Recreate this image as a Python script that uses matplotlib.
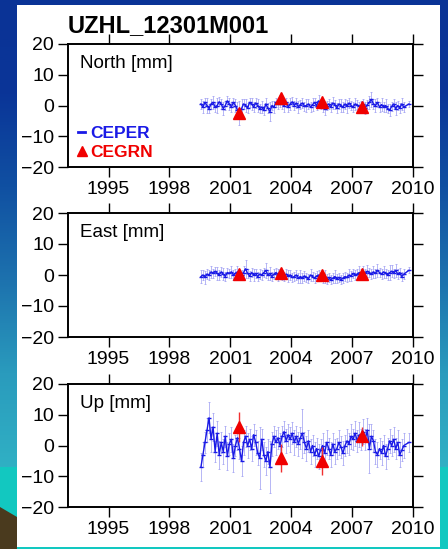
import matplotlib
matplotlib.use("Agg")
import matplotlib.pyplot as plt
import numpy as np
from matplotlib.lines import Line2D
from matplotlib.patches import Rectangle, Polygon

plt.rcParams['font.family'] = ['Liberation Sans', 'DejaVu Sans']

W, H = 448, 549

title = "UZHL_12301M001"
panel_names = ["North [mm]", "East [mm]", "Up [mm]"]
year_ticks = [1995, 1998, 2001, 2004, 2007, 2010]
val_ticks = [-20, -10, 0, 10, 20]

# CEPER continuous series, one value every 0.1 yr from 1999.55, plus a last point
ceper_t = np.append(np.round(np.arange(1999.55, 2009.56, 0.1), 2), 2009.8)

north = [0.5, -0.5, 1.0, 0.0, -1.0, 0.5, 1.0, -0.5, 0.0, 1.2,
         0.5, -1.0, 0.0, 1.5, 0.5, -0.5, 1.0, 0.0, -1.5, -2.5,
         -1.0, 0.5, 0.0, -0.8, 1.0, 0.5, -0.5, 0.8, 0.0, -1.0,
         -0.5, -1.5, 0.5, -0.8, -2.0, 0.0, -0.5, 1.0, 0.5, 1.5,
         0.5, 0.0, 1.0, -0.5, 0.5, 1.2, 0.0, 0.8, -0.5, 0.3,
         0.8, -0.2, 0.0, 0.5, -0.5, 0.3, 1.0, 0.0, 1.5, 0.5,
         -0.5, -1.0, 0.0, 0.5, -0.5, 0.8, 0.3, -0.8, 0.5, 0.0,
         -0.5, 0.5, -0.3, 0.8, 0.0, -0.5, 0.5, 0.2, -0.3, 0.0,
         0.5, -0.8, 0.3, 1.0, 2.0, 0.5, 0.0, 1.0, -0.5, 0.3,
         -0.5, 0.0, -1.0, -1.5, -0.3, 0.5, -1.0, 0.0, -0.8, 0.5,
         -0.5, 0.5]
north_err = [1.5, 2.0, 1.5, 2.5, 1.5, 1.5, 2.0, 1.5, 2.5, 1.5,
             1.5, 2.0, 1.5, 1.5, 2.0, 1.5, 1.5, 2.0, 2.5, 4.0,
             3.0, 1.5, 2.0, 1.5, 1.5, 2.0, 1.5, 1.5, 2.0, 1.5,
             2.0, 1.5, 2.0, 1.5, 3.0, 1.5, 2.0, 1.5, 1.5, 2.0,
             1.5, 2.0, 1.5, 1.5, 2.0, 1.5, 1.5, 1.5, 2.0, 1.5,
             1.5, 1.5, 2.0, 1.5, 1.5, 2.0, 1.5, 1.5, 2.0, 1.5,
             1.5, 2.0, 1.5, 1.5, 1.5, 2.0, 1.5, 1.5, 1.5, 2.0,
             1.5, 1.5, 2.0, 1.5, 1.5, 1.5, 2.0, 1.5, 1.5, 1.5,
             1.5, 2.0, 1.5, 2.0, 2.5, 1.5, 2.0, 1.5, 1.5, 2.0,
             1.5, 2.0, 1.5, 2.0, 1.5, 1.5, 2.0, 1.5, 1.5, 2.0,
             1.5, 1.0]

east = [-0.5, 0.0, -0.8, 0.3, 0.0, 1.0, 0.5, 1.2, 0.5, 0.0,
        1.0, 0.3, -0.5, 0.8, 0.5, 1.0, 0.0, 0.5, 1.0, 0.3,
        0.0, 0.8, 2.0, 0.5, -0.3, 0.8, 0.0, 0.5, -0.5, 0.3,
        0.0, 0.8, 1.5, 0.0, 0.5, -0.5, 0.3, 0.8, 0.0, 0.5,
        0.0, -0.5, 0.3, -0.3, 0.0, -0.8, -0.5, 0.0, -1.0, -0.5,
        -1.0, -0.3, -0.8, -1.2, 0.0, -0.5, -1.0, -0.3, 0.0, -0.5,
        -1.0, -0.5, -1.3, -0.8, -1.5, -1.0, -0.5, -1.2, -0.8, -1.5,
        -1.0, -0.5, -0.8, 0.0, -0.3, 0.5, 0.0, 0.3, 0.8, 0.5,
        1.0, 0.5, 1.2, 0.8, 0.3, 1.0, 0.5, 1.5, 0.8, 0.3,
        1.0, 0.5, 0.0, 0.8, 1.2, 0.5, 1.5, 0.3, 0.8, -0.5,
        0.3, 1.5]
east_err = [2.0, 1.5, 2.0, 1.5, 1.5, 2.0, 1.5, 1.5, 2.0, 1.5,
            1.5, 2.0, 1.5, 1.5, 1.5, 2.0, 1.5, 1.5, 2.0, 1.5,
            1.5, 2.0, 3.0, 1.5, 1.5, 1.5, 2.0, 1.5, 1.5, 1.5,
            1.5, 1.5, 2.5, 1.5, 2.0, 1.5, 1.5, 1.5, 2.0, 1.5,
            1.5, 1.5, 1.5, 2.0, 1.5, 1.5, 1.5, 1.5, 1.5, 2.0,
            1.5, 1.5, 1.5, 1.5, 2.0, 1.5, 1.5, 1.5, 1.5, 1.5,
            1.5, 2.0, 1.5, 1.5, 1.5, 1.5, 2.0, 1.5, 1.5, 1.5,
            1.5, 1.5, 1.5, 2.0, 1.5, 1.5, 1.5, 1.5, 2.0, 1.5,
            2.0, 1.5, 2.0, 1.5, 1.5, 2.0, 1.5, 2.0, 1.5, 1.5,
            2.0, 1.5, 1.5, 2.5, 2.0, 1.5, 2.0, 1.5, 1.5, 1.5,
            1.5, 1.0]

up = [-7.0, -3.0, 1.0, 5.0, 9.0, 2.0, 6.0, -2.0, 4.0, -3.0,
      1.0, -2.0, 3.0, -3.5, 0.5, 2.0, -4.0, 0.0, 2.5, -1.0,
      -5.0, 1.0, 3.0, 0.0, 2.0, -1.0, 3.5, 1.0, -2.5, -4.0,
      2.0, -3.0, -5.0, -2.0, -7.0, 0.5, 3.0, 1.0, 2.5, 0.0,
      3.0, 4.5, 1.5, 3.5, 2.0, 4.0, 1.0, 3.0, 0.5, 2.5,
      4.0, 1.0, -1.0, 1.5, -2.0, 0.0, -3.0, -1.0, -3.5, -1.5,
      0.0, -2.5, 1.0, -1.0, -3.0, 0.5, -2.0, -1.0, 1.0, -0.5,
      -2.5, 0.0, 1.5, 0.5, 3.0, 2.0, 4.0, 1.5, 3.5, 2.0,
      4.5, 2.0, 5.0, -1.0, 3.0, 1.5, -2.0, -3.0, -1.0, -2.5,
      0.0, -3.5, -1.0, 1.5, 0.0, 2.0, -1.0, 1.0, -3.0, -1.5,
      0.0, 1.0]
up_err = [4.5, 4.0, 3.5, 4.0, 5.0, 4.0, 4.5, 3.5, 4.0, 4.5,
          3.5, 4.0, 3.5, 4.5, 3.5, 4.0, 4.5, 3.5, 4.0, 3.5,
          5.0, 4.0, 3.5, 4.0, 3.5, 4.0, 3.5, 4.0, 4.0, 10.0,
          3.5, 4.0, 4.5, 4.0, 8.5, 4.0, 3.5, 4.0, 3.5, 4.0,
          3.5, 3.5, 4.0, 3.5, 4.0, 3.5, 4.0, 3.5, 4.0, 3.5,
          8.0, 3.5, 4.0, 3.5, 4.0, 3.5, 4.0, 3.5, 4.0, 3.5,
          4.0, 3.5, 4.0, 3.5, 4.0, 3.5, 4.0, 3.5, 4.0, 3.5,
          4.0, 3.5, 4.0, 3.5, 4.0, 3.5, 4.0, 3.5, 4.0, 3.5,
          4.0, 3.5, 4.0, 8.0, 4.0, 3.5, 4.0, 4.0, 3.5, 4.0,
          3.5, 4.0, 3.5, 4.0, 3.5, 4.0, 3.5, 4.0, 4.0, 3.5,
          4.0, 3.0]

# CEGRN campaign solutions
cegrn_t = [2001.45, 2003.5, 2005.5, 2007.5]
cegrn_north = [-2.4, 2.5, 1.0, -0.5]
cegrn_east = [0.4, 0.8, 0.1, 0.2]
cegrn_up = [6.0, -4.0, -5.0, 3.0]
cegrn_north_err = [1.5, 1.5, 1.5, 1.5]
cegrn_east_err = [1.2, 1.2, 1.2, 1.2]
cegrn_up_err = [5.0, 4.5, 4.5, 3.0]

series = [(north, north_err, cegrn_north, cegrn_north_err),
          (east, east_err, cegrn_east, cegrn_east_err),
          (up, up_err, cegrn_up, cegrn_up_err)]

# axes boxes in pixels: (left, right, top, bottom)
boxes = [(68, 413, 44, 167), (68, 413, 213, 337), (68, 413, 384, 507)]

fig = plt.figure(figsize=(W / 100, H / 100), dpi=100)

# slide background
bg = fig.add_axes([0, 0, 1, 1], zorder=-10)
bg.set_xlim(0, W)
bg.set_ylim(H, 0)
bg.axis("off")
grad = np.linspace(0, 1, 256).reshape(-1, 1)
cmap = matplotlib.colors.LinearSegmentedColormap.from_list(
    "slide", ["#0a3396", "#0a3598", "#1050a2", "#1d72ae", "#2a9bbd", "#30b0c4"])
bg.imshow(grad, cmap=cmap, aspect="auto", extent=(0, W, 467, 0))
bg.add_patch(Rectangle((0, 467), W, H - 467, color="#12c8c0", lw=0))
bg.add_patch(Polygon([(0, 507), (17, 517), (17, H), (0, H)], color="#4a3a1e", lw=0))
bg.add_patch(Rectangle((17, 5), 423, 542, color="white", lw=0))

fig.text(68 / W, 1 - 32 / H, title, fontsize=17, fontweight="bold", va="baseline", ha="left")

for i, (vals, errs, cvals, cerrs) in enumerate(series):
    l, r, t, b = boxes[i]
    ax = fig.add_axes([l / W, 1 - b / H, (r - l) / W, (b - t) / H])
    ax.errorbar(ceper_t, vals, yerr=errs, fmt="-", color="#1a1ae6", lw=1.0,
                ecolor="#9a9af2", elinewidth=0.5, capsize=1.0, capthick=0.5,
                marker="_", ms=2.5, zorder=2)
    ax.errorbar(cegrn_t, cvals, yerr=cerrs, fmt="^", color="#f00000", ms=8.5,
                ecolor="#f03030", elinewidth=1.0, capsize=0, zorder=4)
    ax.set_xlim(1993, 2010)
    ax.set_ylim(-20, 20)
    ax.set_xticks(year_ticks)
    ax.set_yticks(val_ticks)
    ax.tick_params(direction="out", length=7, width=1, labelsize=14, pad=3,
                   top=True, right=True, labeltop=False, labelright=False)
    for s in ax.spines.values():
        s.set_linewidth(1.4)
    ax.text(0.035, 0.805, panel_names[i], transform=ax.transAxes, fontsize=13.5,
            va="baseline", ha="left")
    if i == 0:
        handles = [Line2D([], [], color="#1a1ae6", lw=2.0),
                   Line2D([], [], color="#f00000", marker="^", ls="none", ms=7)]
        ax.legend(handles, ["CEPER", "CEGRN"], loc="lower left",
                  bbox_to_anchor=(-0.005, -0.045), frameon=False, handlelength=0.4,
                  handletextpad=0.3, labelspacing=0.25, borderpad=0.2,
                  prop={"weight": "bold", "size": 12.5}, labelcolor="linecolor")

fig.savefig("out.png", dpi=100)
